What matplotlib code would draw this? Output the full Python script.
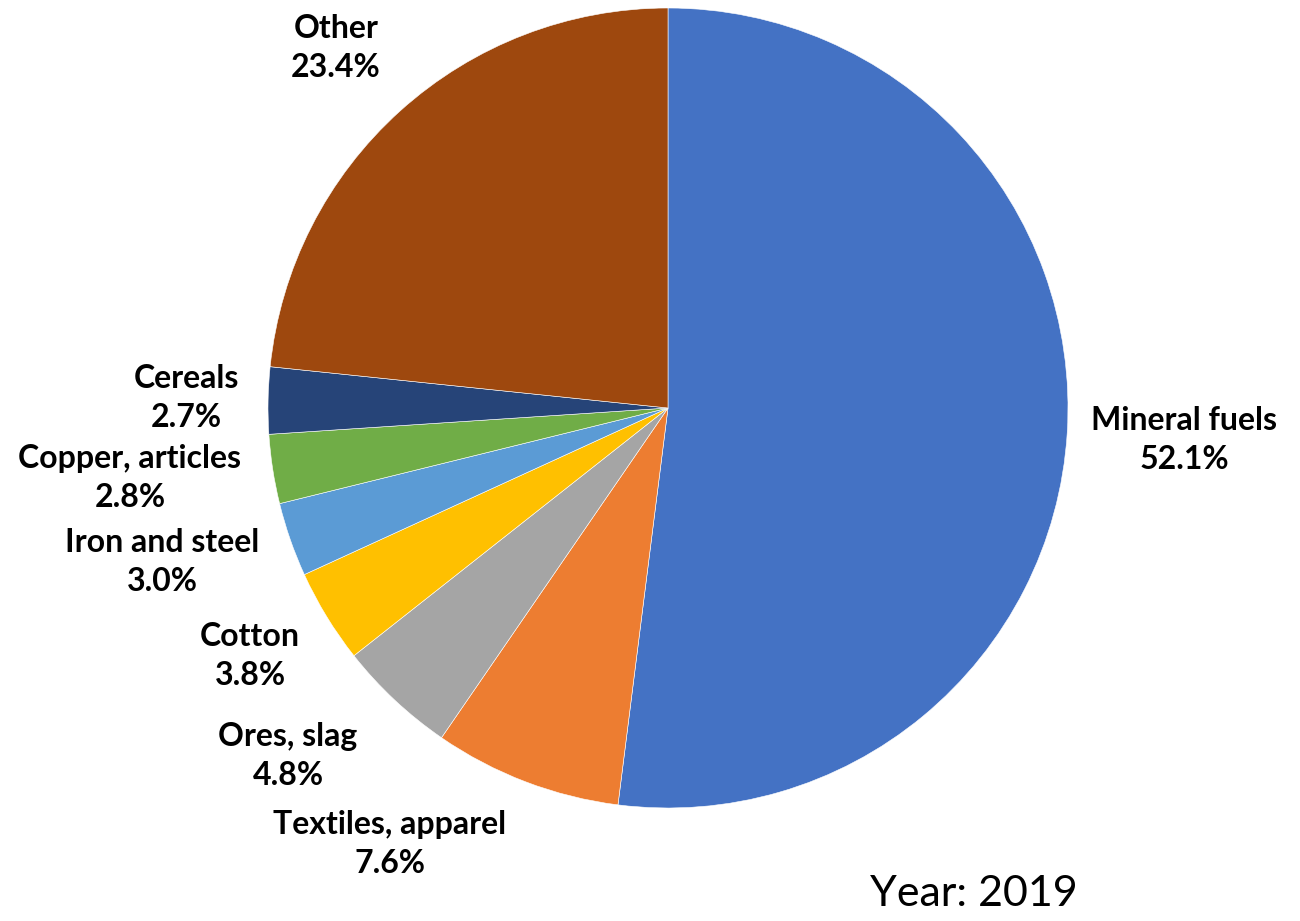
import matplotlib.pyplot as plt

plt.rcParams['font.family'] = ['Lato', 'DejaVu Sans']

# data
categories = ['Mineral fuels', 'Textiles, apparel', 'Ores, slag', 'Cotton',
              'Iron and steel', 'Copper, articles', 'Cereals', 'Other']
shares = [52.1, 7.6, 4.8, 3.8, 3.0, 2.8, 2.7, 23.4]
year_label = 'Year: 2019'

colors = ['#4472C4', '#ED7D31', '#A5A5A5', '#FFC000',
          '#5B9BD5', '#70AD47', '#264478', '#9E480E']

# label spots (pie radius = 1), like Excel's "outside end"
label_pos = [(1.29, -0.08), (-0.695, -1.09), (-0.95, -0.87), (-1.045, -0.62),
             (-1.265, -0.385), (-1.345, -0.175), (-1.205, 0.025), (-0.83, 0.9)]

fig = plt.figure(figsize=(13, 9.21), dpi=100)
ax = fig.add_axes([0, 0, 1, 1])

ax.pie(shares, colors=colors, startangle=90, counterclock=False, radius=1,
       wedgeprops=dict(edgecolor='white', linewidth=0.4))

for name, val, (x, y) in zip(categories, shares, label_pos):
    ax.text(x, y, f'{name}\n{val:.1f}%', ha='center', va='center',
            fontsize=23, fontweight='bold', linespacing=1.42)

ax.text(0.765, -1.215, year_label, ha='center', va='center', fontsize=31)

ax.set_xlim(-668 / 400, (1300 - 668) / 400)
ax.set_ylim(-513 / 400, 408 / 400)
ax.set_aspect('auto')
ax.axis('off')

fig.savefig('out.png', dpi=100)
